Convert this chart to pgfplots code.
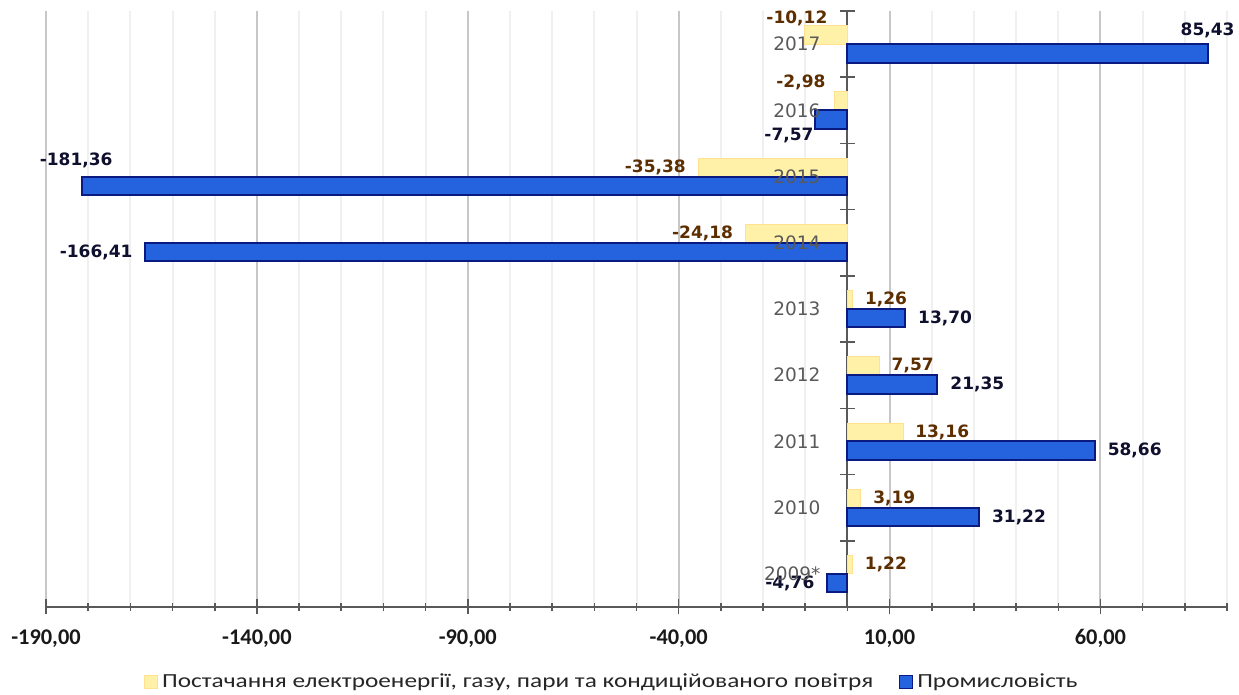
\documentclass[border=0pt]{standalone}
\usepackage{fontspec}
\setmainfont{Carlito}
\newfontfamily\dejavu{DejaVu Sans}
\newfontfamily\legfont[FakeStretch=1.265]{Carlito}
\usepackage{pgfplots}
\usepackage{pgfplotstable}
\pgfplotsset{compat=1.18}

\definecolor{supply}{HTML}{FFF2A8}
\definecolor{industry}{HTML}{2563DE}
\definecolor{industryedge}{HTML}{0B1A80}
\definecolor{supplylbl}{HTML}{5C2E00}
\definecolor{industrylbl}{HTML}{0F0F2E}
\definecolor{axisgray}{HTML}{595959}

\pgfplotsset{
  frame/.style={scale only axis, width=590.5pt, height=298pt,
    xmin=-190, xmax=90, ymin=-0.5, ymax=8.5},
}

% y: 0 = 2009*, ..., 8 = 2017; dx, dy = label nudge in pt
\pgfplotstableread{
y val dx dy
0 1.22 0 0
1 3.19 0 0
2 13.16 0 0
3 7.57 0 0
4 1.26 0 0
5 -24.18 0 0
6 -35.38 0 0
7 -2.98 1.5 9.5
8 -10.12 17.5 8.25
}\tabsupply

\pgfplotstableread{
y val dx dy
0 -4.76 0 0
1 31.22 0 0
2 58.66 0 0
3 21.35 0 0
4 13.70 0 0
5 -166.41 0 0
6 -181.36 21.5 12.5
7 -7.57 5.5 -8
8 85.43 -20 11.5
}\tabindustry

\begin{document}
\begin{tikzpicture}
\begin{axis}[
    name=ax, frame,
    xbar, bar width=9.25pt,
    axis x line*=bottom, axis y line*=middle,
    axis line style={axisgray, line width=1pt},
    xtick={-190,-140,...,60},
    minor xtick={-180,-170,-160,-150,-130,-120,-110,-100,-80,-70,-60,-50,-30,-20,-10,0,20,30,40,50,70,80,90},
    ytick={-0.5,0.5,...,8.5},
    yticklabels={},
    tick align=center,
    major tick length=7.5pt, minor tick length=4pt,
    tick style={axisgray, line width=0.8pt},
    xmajorgrids, xminorgrids,
    major grid style={black!22, line width=1pt},
    minor grid style={black!6, line width=1pt},
    xticklabel style={font=\bfseries\fontsize{11.2}{13}\selectfont, text=black!90, yshift=-4pt},
    /pgf/number format/fixed,
    /pgf/number format/fixed zerofill,
    /pgf/number format/precision=2,
    /pgf/number format/use comma,
    /pgf/number format/1000 sep={},
    /pgf/number format/assume math mode=true,
    point meta=x,
    nodes near coords={\pgfmathprintnumber{\pgfplotspointmeta}},
    legend style={draw=none, fill=none, at={(0.480,-0.126)}, anchor=center,
        legend columns=2, font=\legfont\fontsize{10}{12}\selectfont, text=black!85,
        /tikz/every even column/.append style={column sep=11pt},
        /tikz/every odd column/.append style={inner xsep=2pt}},
    legend image code/.code={\draw[#1, line width=0.5pt] (0pt,-3.2pt) rectangle (6.5pt,3.2pt);},
]
\addplot[fill=supply, draw=supply!85!orange, bar shift=4.625pt,
    visualization depends on={\thisrow{dx} \as \dx},
    visualization depends on={\thisrow{dy} \as \dy},
    nodes near coords style={font=\dejavu\bfseries\fontsize{8.5}{10}\selectfont,
        inner xsep=6pt, xshift=\dx, yshift=\dy, text=supplylbl}]
    table[x=val, y=y] {\tabsupply};
\addplot[fill=industry, draw=industryedge, line width=1pt, bar shift=-4.625pt,
    visualization depends on={\thisrow{dx} \as \dx},
    visualization depends on={\thisrow{dy} \as \dy},
    nodes near coords style={font=\dejavu\bfseries\fontsize{8.5}{10}\selectfont,
        inner xsep=6pt, xshift=\dx, yshift=\dy, text=industrylbl}]
    table[x=val, y=y] {\tabindustry};
\legend{{Постачання електроенергії, газу, пари та кондиційованого повітря}, Промисловість}
\end{axis}
% year labels, drawn over the bars
\begin{axis}[
    frame,
    hide x axis,
    axis y line*=middle,
    y axis line style={draw=none},
    ytick={0,1,...,8},
    yticklabels={2009*,2010,2011,2012,2013,2014,2015,2016,2017},
    major tick length=0pt,
    yticklabel style={font=\dejavu\fontsize{9.25}{11}\selectfont, text=axisgray, xshift=-10pt},
]
\end{axis}
\pgfresetboundingbox
\path ([xshift=-23pt,yshift=-44pt]ax.south west) rectangle ([xshift=6pt,yshift=5.5pt]ax.north east);
\end{tikzpicture}
\end{document}
